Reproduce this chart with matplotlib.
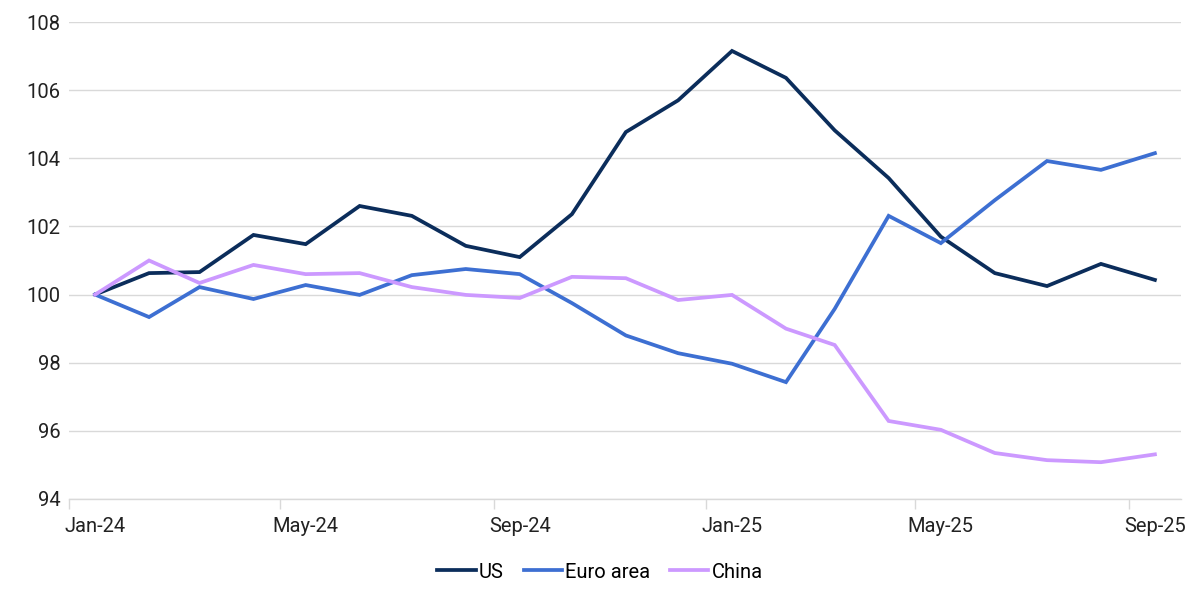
import datetime as dt
import matplotlib
matplotlib.use("Agg")
import matplotlib.pyplot as plt
import matplotlib.dates as mdates

plt.rcParams['font.family'] = ['Roboto', 'DejaVu Sans']

# monthly index, Jan-24 = 100 (values plotted at mid-month)
months = [dt.date(2024 + (m // 12), m % 12 + 1, 16) for m in range(21)]
us = [100.0, 100.63, 100.66, 101.75, 101.48, 102.6, 102.31, 101.43, 101.1, 102.36,
      104.77, 105.7, 107.15, 106.36, 104.82, 103.42, 101.7, 100.63, 100.25, 100.9, 100.43]
euro = [100.0, 99.34, 100.22, 99.87, 100.28, 99.99, 100.57, 100.75, 100.6, 99.75,
        98.8, 98.28, 97.97, 97.43, 99.58, 102.31, 101.51, 102.77, 103.92, 103.66, 104.15]
china = [100.0, 101.0, 100.34, 100.87, 100.6, 100.63, 100.22, 99.99, 99.9, 100.52,
         100.48, 99.84, 99.99, 99.0, 98.52, 96.29, 96.03, 95.35, 95.14, 95.08, 95.31]
series_names = ['US', 'Euro area', 'China']
colors = ['#0b2d5b', '#3d6fd2', '#cc99ff']

fig = plt.figure(figsize=(12, 6.01), dpi=100)
ax = fig.add_axes([69/1200, 1 - 499/601, (1181 - 69)/1200, (499 - 22)/601])

for vals, name, c in zip([us, euro, china], series_names, colors):
    ax.plot(months, vals, color=c, lw=2.7, label=name, solid_joinstyle='miter')

ax.set_ylim(94, 108)
ax.set_yticks(range(94, 109, 2))
ax.set_xlim(dt.date(2024, 1, 1), dt.date(2025, 10, 1))

# tick marks at start of month, labels at mid-month
major = [dt.date(2024, 1, 1), dt.date(2024, 5, 1), dt.date(2024, 9, 1),
         dt.date(2025, 1, 1), dt.date(2025, 5, 1), dt.date(2025, 9, 1)]
ax.set_xticks(major)
ax.set_xticklabels([])
ax.set_xticks([d.replace(day=16) for d in major], minor=True)
ax.xaxis.set_minor_formatter(mdates.DateFormatter('%b-%y'))
ax.tick_params(axis='x', which='major', length=7, color='#d9d9d9', width=1)
ax.tick_params(axis='x', which='minor', length=0, pad=13, labelsize=14.5, labelcolor='#222222')
ax.tick_params(axis='y', length=0, pad=6, labelsize=14.5, labelcolor='#222222')

ax.grid(axis='y', color='#d9d9d9', lw=1)
ax.set_axisbelow(True)
for s in ['top', 'right', 'left']:
    ax.spines[s].set_visible(False)
ax.spines['bottom'].set_color('#d9d9d9')
ax.spines['bottom'].set_linewidth(1)

fig.legend(loc='center', bbox_to_anchor=(0.5, 1 - 572/601), ncol=3, frameon=False,
           fontsize=14.5, handlelength=1.9, handletextpad=0.15, columnspacing=1.0)

fig.savefig('out.png', dpi=100)
